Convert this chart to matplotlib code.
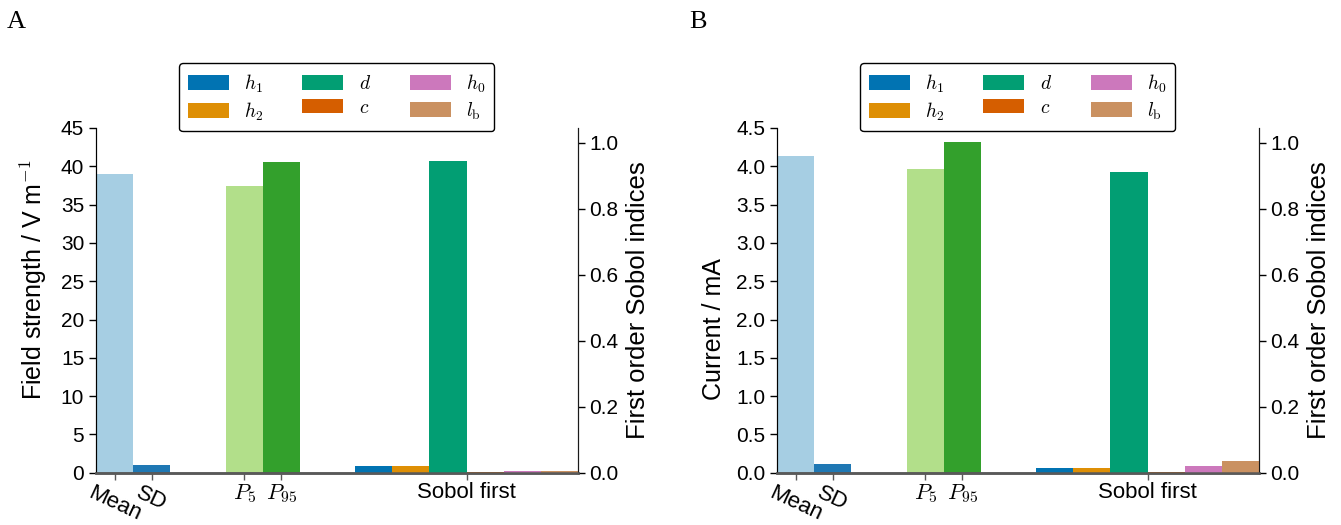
import numpy as np
import matplotlib
matplotlib.use('Agg')
import matplotlib.pyplot as plt
from matplotlib.patches import Patch

plt.rcParams['font.family'] = ['Liberation Sans', 'DejaVu Sans']
plt.rcParams['mathtext.fontset'] = 'cm'
plt.rcParams['font.size'] = 15

# Summary statistics (left axis) and first-order Sobol indices (right axis)
stat_labels = ['Mean', 'SD', '$P_5$', '$P_{95}$']
stat_pos = [0.5, 1.5, 4.0, 5.0]
stat_colors = ['#a6cee3', '#1f78b4', '#b2df8a', '#33a02c']

sobol_names = ['$h_1$', '$h_2$', '$d$', '$c$', '$h_0$', '$l_\\mathrm{b}$']
sobol_pos = [7.5, 8.5, 9.5, 10.5, 11.5, 12.5]
sobol_colors = ['#0173b2', '#de8f05', '#029e73', '#d55e00', '#cc78bc', '#ca9161']

field_stats = [39.0, 1.0, 37.4, 40.6]
field_sobol = [0.020, 0.020, 0.946, 0.003, 0.005, 0.005]

current_stats = [4.13, 0.11, 3.96, 4.32]
current_sobol = [0.014, 0.014, 0.913, 0.003, 0.021, 0.036]


def draw_panel(ax, stats, sobol, ymax, ystep, ylabel, label_x):
    ax.bar(stat_pos, stats, width=1.0, color=stat_colors, linewidth=0)
    ax.set_xlim(0, 13)
    ax.set_ylim(0, ymax)
    ax.set_yticks(np.arange(0, ymax + ystep / 2, ystep))
    ax.set_ylabel(ylabel, fontsize=18, ha='left')
    ax.yaxis.set_label_coords(label_x, 0.21)

    ax2 = ax.twinx()
    ax2.bar(sobol_pos, sobol, width=1.0, color=sobol_colors, linewidth=0)
    ax2.set_ylim(0, 1.045)
    ax2.set_yticks(np.arange(0, 1.01, 0.2))
    ax2.set_ylabel('First order Sobol indices', fontsize=18.5, labelpad=5)

    ax.set_xticks(stat_pos + [np.mean(sobol_pos)])
    ax.set_xticklabels(stat_labels + ['Sobol first'], fontsize=16)
    for lab in ax.get_xticklabels()[:2]:
        lab.set_rotation(-25)
        lab.set_ha('center')

    for a in (ax, ax2):
        a.spines['top'].set_visible(False)
        a.spines['bottom'].set_color('0.35')
        a.spines['bottom'].set_linewidth(1.8)
        a.tick_params(direction='out', length=5, width=1)
    ax.spines['left'].set_color('0.1')
    ax2.spines['right'].set_color('0.1')
    ax.tick_params(axis='x', colors='0.35', labelcolor='black', pad=2)
    ax.tick_params(axis='y', right=False)
    ax2.tick_params(axis='y', left=False)

    handles = [Patch(facecolor=c, edgecolor='none') for c in sobol_colors]
    leg = ax2.legend(handles, sobol_names, ncol=3, loc='lower center',
                     bbox_to_anchor=(0.5, 0.99), fontsize=14, handlelength=2.1,
                     handleheight=0.75, handletextpad=0.8, columnspacing=2.0,
                     labelspacing=0.3, borderpad=0.45, fancybox=True,
                     framealpha=1, borderaxespad=0)
    leg.get_frame().set_edgecolor('black')
    leg.get_frame().set_linewidth(1.0)
    return ax2


fig = plt.figure(figsize=(13.41, 5.25), dpi=100)
ax_a = fig.add_axes([0.0716, 0.0996, 0.3592, 0.6566])
ax_b = fig.add_axes([0.5794, 0.0996, 0.3592, 0.6566])

draw_panel(ax_a, field_stats, field_sobol, 45, 5, 'Field strength / V m$^{-1}$', -0.098)
draw_panel(ax_b, current_stats, current_sobol, 4.5, 0.5, 'Current / mA', -0.106)

fig.text(0.005, 1 - 28 / 525, 'A', fontsize=19, family='Liberation Serif', va='baseline')
fig.text(0.514, 1 - 28 / 525, 'B', fontsize=19, family='Liberation Serif', va='baseline')

fig.savefig('out.png', dpi=100)
plt.close(fig)
